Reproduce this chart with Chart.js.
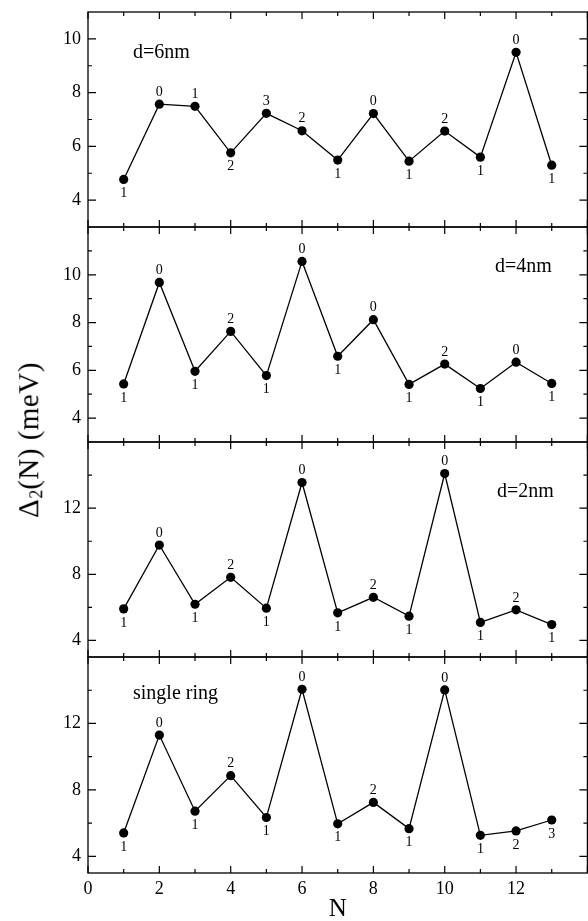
<!DOCTYPE html>
<html>
<head>
<meta charset="utf-8">
<script src="https://cdn.jsdelivr.net/npm/chart.js@4.4.1/dist/chart.umd.min.js"></script>
<style>
  html, body { margin: 0; padding: 0; background: #fff; overflow: hidden; }
  #wrap { position: relative; width: 588px; height: 921px; overflow: hidden; background: #fff; }
  canvas.panel { position: absolute; left: 0; }
  #ytitle {
    position: absolute; left: 30px; top: 440px;
    transform: translate(-50%, -50%) rotate(-90deg);
    font-family: "Liberation Serif", "DejaVu Serif", serif; font-size: 29px; color: #000;
    white-space: nowrap; letter-spacing: 0.5px; line-height: 1;
  }
  #ytitle sub { font-size: 0.62em; vertical-align: -0.25em; letter-spacing: 0; }
</style>
</head>
<body>
<div id="wrap">
  <canvas class="panel" id="c0"></canvas>
  <canvas class="panel" id="c1"></canvas>
  <canvas class="panel" id="c2"></canvas>
  <canvas class="panel" id="c3"></canvas>
  <div id="ytitle">Δ<sub>2</sub>(N) (meV)</div>
</div>
<script>
// ---------------- data ----------------
const N = [1, 2, 3, 4, 5, 6, 7, 8, 9, 10, 11, 12, 13];

const delta_d6   = [4.77, 7.57, 7.49, 5.76, 7.23, 6.58, 5.49, 7.22, 5.45, 6.57, 5.60, 9.50, 5.30];
const delta_d4   = [5.43, 9.68, 5.96, 7.63, 5.78, 10.56, 6.59, 8.12, 5.41, 6.26, 5.24, 6.34, 5.45];
const delta_d2   = [5.91, 9.77, 6.19, 7.82, 5.95, 13.55, 5.67, 6.61, 5.47, 14.09, 5.09, 5.85, 4.96];
const delta_ring = [5.41, 11.30, 6.72, 8.86, 6.34, 14.06, 5.96, 7.25, 5.67, 14.02, 5.27, 5.53, 6.19];

const tag_d6   = ['1','0','1','2','3','2','1','0','1','2','1','0','1'];
const tag_d4   = ['1','0','1','2','1','0','1','0','1','2','1','0','1'];
const tag_d2   = ['1','0','1','2','1','0','1','2','1','0','1','2','1'];
const tag_ring = ['1','0','1','2','1','0','1','2','1','0','1','2','3'];

const panelNames = ['d=6nm', 'd=4nm', 'd=2nm', 'single ring'];

const yTicksSmall = [4, 6, 8, 10];
const yTicksLarge = [4, 8, 12];
const xTickLabels = [0, 2, 4, 6, 8, 10, 12];

const xAxisTitle = 'N';

// ---------------- layout ----------------
const SERIF = '"Liberation Serif", "DejaVu Serif", serif';
const M = 10;            // extra canvas margin above/below each panel
const panels = [
  { vals: delta_d6,   tags: tag_d6,   name: panelNames[0], ymin: 3, ymax: 11, ticks: yTicksSmall, step: 2, top: 12,  h: 215, nx: 45,  ny: 41, align: 'left' },
  { vals: delta_d4,   tags: tag_d4,   name: panelNames[1], ymin: 3, ymax: 12, ticks: yTicksSmall, step: 2, top: 227, h: 215, nx: 407, ny: 40, align: 'left' },
  { vals: delta_d2,   tags: tag_d2,   name: panelNames[2], ymin: 3, ymax: 16, ticks: yTicksLarge, step: 4, top: 442, h: 215, nx: 409, ny: 50, align: 'left' },
  { vals: delta_ring, tags: tag_ring, name: panelNames[3], ymin: 3, ymax: 16, ticks: yTicksLarge, step: 4, top: 657, h: 216, nx: 45,  ny: 37, align: 'left', bottom: true }
];
const X_AXIS_H = 48;

function decoPlugin(p) {
  return {
    id: 'deco',
    afterDraw(chart) {
      const ctx = chart.ctx;
      const a = chart.chartArea;
      const xs = chart.scales.x, ys = chart.scales.y;
      ctx.save();
      ctx.strokeStyle = '#000';
      ctx.fillStyle = '#000';
      // frame
      ctx.lineWidth = 1.3;
      ctx.strokeRect(a.left, a.top, a.right - a.left, a.bottom - a.top);
      // x ticks (top & bottom, inward)
      ctx.lineWidth = 1.2;
      for (let v = Math.ceil(xs.min); v <= xs.max; v++) {
        const px = xs.getPixelForValue(v);
        const len = (v % 2 === 0) ? 7 : 4;
        ctx.beginPath();
        ctx.moveTo(px, a.bottom); ctx.lineTo(px, a.bottom - len);
        ctx.moveTo(px, a.top); ctx.lineTo(px, a.top + len);
        ctx.stroke();
      }
      // y ticks (left & right, inward)
      const half = p.step / 2;
      for (let v = p.ticks[0] - half * Math.floor((p.ticks[0] - ys.min) / half); v <= ys.max; v += half) {
        if (v <= ys.min || v >= ys.max) continue;
        const py = ys.getPixelForValue(v);
        const major = p.ticks.includes(v);
        const len = major ? 8 : 4;
        ctx.beginPath();
        ctx.moveTo(a.left, py); ctx.lineTo(a.left + len, py);
        ctx.moveTo(a.right, py); ctx.lineTo(a.right - len, py);
        ctx.stroke();
      }
      // point tags
      const meta = chart.getDatasetMeta(0);
      const vals = p.vals;
      ctx.font = '14px ' + SERIF;
      ctx.textAlign = 'center';
      ctx.textBaseline = 'middle';
      meta.data.forEach((pt, i) => {
        let above;
        if (i === 0 || i === vals.length - 1) above = false;
        else above = vals[i] > (vals[i - 1] + vals[i + 1]) / 2;
        const y = above ? pt.y - 12 : pt.y + 14;
        ctx.fillText(p.tags[i], pt.x, y);
      });
      // panel name
      ctx.font = '20px ' + SERIF;
      ctx.textAlign = p.align;
      ctx.fillText(p.name, a.left + p.nx, a.top + p.ny);
      ctx.restore();
    }
  };
}

panels.forEach((p, idx) => {
  const cv = document.getElementById('c' + idx);
  const hTotal = p.h + M + (p.bottom ? X_AXIS_H : M);
  cv.width = 592; cv.height = hTotal;
  cv.style.width = '592px'; cv.style.height = hTotal + 'px';
  cv.style.top = (p.top - M) + 'px';

  new Chart(cv, {
    type: 'line',
    data: {
      datasets: [{
        data: N.map((n, i) => ({ x: n, y: p.vals[i] })),
        borderColor: '#000',
        borderWidth: 1.3,
        pointRadius: 4.6,
        pointBackgroundColor: '#000',
        pointBorderColor: '#000',
        pointBorderWidth: 0,
        tension: 0,
        fill: false
      }]
    },
    options: {
      responsive: false,
      animation: false,
      devicePixelRatio: 1,
      layout: { padding: { left: 0, right: 2, top: M, bottom: p.bottom ? 0 : M } },
      plugins: { legend: { display: false }, tooltip: { enabled: false } },
      scales: {
        x: {
          type: 'linear', min: 0, max: 14,
          display: !!p.bottom,
          grid: { display: false, drawTicks: false },
          border: { display: false },
          ticks: { color: '#000', font: { family: SERIF, size: 18 }, padding: 5, maxRotation: 0 },
          afterBuildTicks(s) { s.ticks = xTickLabels.map(v => ({ value: v })); },
          afterFit(s) {
            if (p.bottom) { s.height = X_AXIS_H; } else { s.height = 0; }
            s.paddingLeft = 0; s.paddingRight = 0;
          },
          title: { display: true, text: xAxisTitle, color: '#000', font: { family: SERIF, size: 25, lineHeight: 0.9 }, padding: { top: 0, bottom: 0 } }
        },
        y: {
          type: 'linear', min: p.ymin, max: p.ymax,
          grid: { display: false, drawTicks: false },
          border: { display: false },
          ticks: { color: '#000', font: { family: SERIF, size: 18 }, padding: 7 },
          afterBuildTicks(s) { s.ticks = p.ticks.map(v => ({ value: v })); },
          afterFit(s) { s.width = 88; s.paddingTop = 0; s.paddingBottom = 0; }
        }
      }
    },
    plugins: [decoPlugin(p)]
  });
});
</script>
</body>
</html>
